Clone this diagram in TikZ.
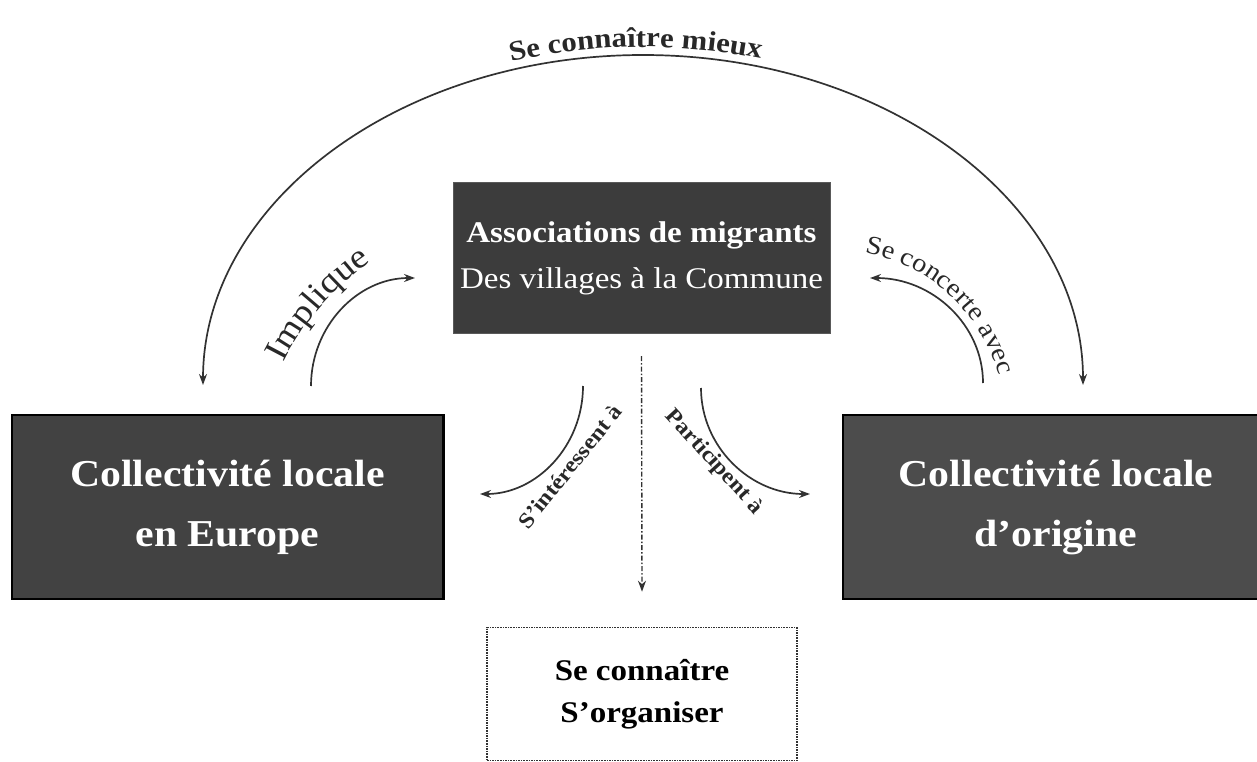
\documentclass[tikz,border=0pt]{standalone}
\usepackage{fontspec}
\setmainfont{Liberation Serif}[FakeStretch=1.1]
\usetikzlibrary{arrows.meta,decorations.text,calc}
\definecolor{boxL}{RGB}{66,66,66}
\definecolor{boxC}{RGB}{60,60,60}
\definecolor{boxR}{RGB}{76,76,76}
\definecolor{arrgray}{RGB}{50,50,50}
\definecolor{lblgray}{RGB}{40,40,40}
\newcommand\fntCenter{\fontsize{30}{46}\selectfont}
\newcommand\fntSide{\fontsize{38}{60}\selectfont}
\newcommand\fntBottom{\fontsize{30}{42}\selectfont}
\newcommand\fntImp{\fontsize{34}{40}\selectfont}
\newcommand\fntConc{\fontsize{26}{30}\selectfont}
\newcommand\fntTop{\fontsize{28}{32}\selectfont\bfseries}
\newcommand\fntSmall{\fontsize{22}{26}\selectfont\bfseries}
\begin{document}
\begin{tikzpicture}[x=1pt,y=-1pt,
  dbox/.style={draw=black, line width=1.5pt, text=white, align=center, inner sep=0pt},
  dotbox/.style={draw=arrgray, line width=1.6pt, densely dotted, fill=white, align=center, inner sep=0pt, text=black},
  arr/.style={draw=arrgray, line width=1.7pt, -{Stealth[length=11pt,width=8pt]}},
  biarr/.style={draw=arrgray, line width=1.7pt, {Stealth[length=11pt,width=8pt]}-{Stealth[length=11pt,width=8pt]}},
  dasharr/.style={draw=arrgray, line width=1.4pt, dash pattern=on 5pt off 2pt on 1.5pt off 2pt, -{Stealth[length=11pt,width=8pt]}},
  lbl/.style={decorate, decoration={text along path, text align=center, text color=lblgray, text={#1}}}
]
\useasboundingbox (0,0) rectangle (1257,762);

% boxes
\node[dbox, draw=gray!70!black, line width=1pt, fill=boxC, minimum width=377pt, minimum height=151pt, font=\fntCenter]
  (assoc) at (641.5,258) {{\bfseries Associations de migrants}\\Des villages à la Commune};
\node[dbox, fill=boxL, minimum width=431pt, minimum height=184pt, font=\fntSide\bfseries]
  (europe) at (227.5,507) {Collectivité locale\\en Europe};
\node[dbox, fill=boxR, minimum width=426pt, minimum height=184pt, font=\fntSide\bfseries]
  (origine) at (1056,507) {Collectivité locale\\d'origine};
\draw[black, line width=3pt] (europe.north east) -- (europe.south east);
\node[dotbox, minimum width=310pt, minimum height=133pt, font=\fntBottom\bfseries]
  (orga) at (642,694) {Se connaître\\S'organiser};

% coordinates for connectors
\coordinate (bigL) at (203,385);
\coordinate (impS) at (311,386);
\coordinate (concS) at (983,383);
\coordinate (intS) at (583,386);
\coordinate (partS) at (701,388);
\coordinate (dashS) at ($(assoc.south)+(0,22)$);
\coordinate (dashE) at ($(orga.north)+(0,-35)$);

% big arc
\draw[biarr] (bigL) arc[start angle=180, end angle=360, x radius=440, y radius=330];
% Implique
\draw[arr] (impS) arc[start angle=180, end angle=270, x radius=104, y radius=108];
% Se concerte avec
\draw[arr] (concS) arc[start angle=0, end angle=-90, x radius=113, y radius=105];
% S'intéressent à
\draw[arr] (intS) arc[start angle=0, end angle=90, x radius=103, y radius=108];
% Participent à
\draw[arr] (partS) arc[start angle=180, end angle=90, x radius=109, y radius=106];
% dashed centre
\draw[dasharr] (dashS) -- (dashE);

% labels along paths
\path[lbl={|\fntTop|Se connaître mieux}]
  ($(643,385)+(234:447 and 338)$) arc[start angle=234, end angle=304, x radius=447, y radius=338];
\path[lbl={|\fntImp|Implique}]
  ($(520,480)+(185:264)$) arc[start angle=185, end angle=257, radius=264];
\path[lbl={|\fntConc|Se concerte avec}]
  ($(834,421)+(-95:171)$) arc[start angle=-95, end angle=0, radius=171];
\path[lbl={|\fntSmall|S'intéressent à}] (512.5,549.4) -- (638.5,393.4);
\path[lbl={|\fntSmall|Participent à}] (642.4,391.9) -- (777.2,539.5);
\end{tikzpicture}
\end{document}
